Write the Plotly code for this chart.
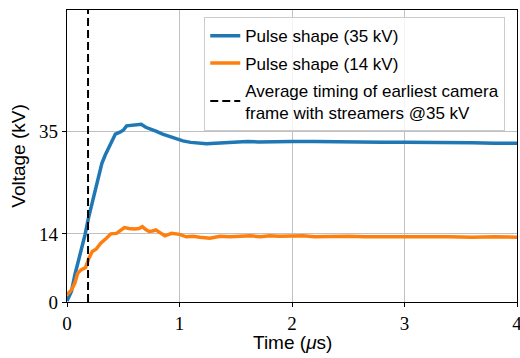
import plotly.graph_objects as go

# Pulse shape at 35 kV (time in microseconds, voltage in kV)
blue_t = [0.0, 0.01, 0.04, 0.07, 0.10, 0.13, 0.16, 0.19, 0.22, 0.25, 0.28, 0.31, 0.34,
          0.37, 0.40, 0.43, 0.47, 0.50, 0.53, 0.60, 0.66, 0.70, 0.75, 0.79, 0.85, 0.91,
          0.97, 1.03, 1.10, 1.17, 1.24, 1.32, 1.40, 1.50, 1.60, 1.70, 1.85, 2.0, 2.2,
          2.4, 2.6, 2.8, 3.0, 3.2, 3.4, 3.6, 3.8, 4.0]
blue_v = [0.2, 0.8, 2.2, 5.6, 8.3, 10.4, 13.8, 17.2, 20.0, 22.4, 25.4, 28.5, 30.2,
          31.6, 33.3, 34.5, 34.9, 35.3, 36.2, 36.4, 36.5, 35.9, 35.5, 35.1, 34.5, 34.0,
          33.6, 33.1, 32.8, 32.6, 32.5, 32.6, 32.7, 32.8, 33.0, 32.9, 33.0, 33.0, 33.0,
          32.9, 32.9, 32.8, 32.8, 32.8, 32.7, 32.7, 32.6, 32.6]

# Pulse shape at 14 kV
orange_t = [0.0, 0.04, 0.07, 0.095, 0.125, 0.165, 0.195, 0.225, 0.26, 0.30, 0.35, 0.39,
            0.44, 0.48, 0.51, 0.55, 0.60, 0.64, 0.67, 0.70, 0.73, 0.76, 0.79, 0.83, 0.87,
            0.93, 1.0, 1.06, 1.12, 1.18, 1.27, 1.36, 1.45, 1.54, 1.63, 1.72, 1.80, 1.89,
            2.0, 2.1, 2.2, 2.35, 2.5, 2.65, 2.8, 3.0, 3.2, 3.4, 3.6, 3.8, 4.0]
orange_v = [1.5, 2.5, 3.9, 5.9, 6.6, 7.1, 9.0, 10.4, 10.9, 12.1, 13.1, 14.0,
            14.1, 14.8, 15.3, 15.1, 15.0, 15.1, 15.5, 14.9, 14.5, 14.6, 14.8, 14.2, 13.6,
            14.1, 13.9, 13.4, 13.5, 13.3, 13.1, 13.5, 13.4, 13.5, 13.6, 13.4, 13.6, 13.5,
            13.5, 13.6, 13.4, 13.5, 13.5, 13.4, 13.4, 13.5, 13.4, 13.4, 13.3, 13.4, 13.3]

streamer_time = 0.187
y_span = [0, 60]

x_ticks = [0, 1, 2, 3, 4]
y_ticks = [0, 14, 35]

names = ["Pulse shape (35 kV)", "Pulse shape (14 kV)",
         "Average timing of earliest camera<br>frame with streamers @35 kV"]

fig = go.Figure()
fig.add_trace(go.Scatter(x=blue_t, y=blue_v, mode="lines", name=names[0], legendgroup="a",
                         line=dict(color="#1f77b4", width=3.5)))
fig.add_trace(go.Scatter(x=orange_t, y=orange_v, mode="lines", name=names[1], legendgroup="b",
                         line=dict(color="#ff7f0e", width=3.5)))
fig.add_trace(go.Scatter(x=[streamer_time, streamer_time], y=y_span, mode="lines",
                         name=names[2], legendgroup="c",
                         line=dict(color="black", width=2, dash="8px,4px")))

axis_common = dict(showline=True, linecolor="black", linewidth=1.2, mirror=True,
                   ticks="outside", ticklen=4, tickcolor="black", tickwidth=1,
                   showgrid=True, gridcolor="#c0c0c0", gridwidth=1, zeroline=False,
                   ticklabeloverflow="allow", automargin=False,
                   tickfont=dict(family="Liberation Serif", size=19, color="black"))

fig.update_layout(
    width=520, height=358,
    margin=dict(l=67, r=3, t=10, b=56),
    paper_bgcolor="white", plot_bgcolor="white",
    font=dict(family="Liberation Sans", size=17, color="black"),
    xaxis=dict(range=[0, 4], tickvals=x_ticks, ticktext=[str(v) for v in x_ticks],
               **axis_common),
    yaxis=dict(range=[0, 60], tickvals=y_ticks, ticktext=[str(v) for v in y_ticks],
               title=dict(text="Voltage (kV)", font=dict(size=19), standoff=8),
               **axis_common),
    legend=dict(x=0.305, y=0.975, xanchor="left", yanchor="top",
                traceorder="grouped", tracegroupgap=2,
                bgcolor="rgba(255,255,255,0.8)", bordercolor="#cccccc", borderwidth=1,
                font=dict(family="Liberation Sans", size=17)),
    annotations=[dict(text="Time (<i>μ</i>s)", xref="paper", yref="paper",
                      x=0.5, y=-0.14, xanchor="center", yanchor="middle",
                      showarrow=False, font=dict(family="Liberation Sans", size=19))],
    showlegend=True,
)

fig.write_html("out.html")
